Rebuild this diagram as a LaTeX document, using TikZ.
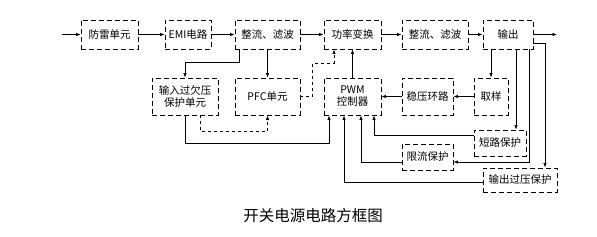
\documentclass[tikz,border=0pt]{standalone}
\usepackage{fontspec}
\newfontfamily\cjk{Noto Sans CJK SC}
\usetikzlibrary{arrows.meta,calc}

\begin{document}
\begin{tikzpicture}[
  x=1pt, y=-1pt,
  font=\cjk\fontsize{10.5}{12}\selectfont,
  line width=0.8pt,
  blk/.style={draw, dash pattern=on 5pt off 3pt, align=center, inner sep=1pt, minimum height=29pt},
  tall/.style={blk, minimum height=37pt},
  >={Latex[length=4.5pt,width=3.5pt]}
]
  \useasboundingbox (0,0) rectangle (597,236);

  % top row
  \node[blk, minimum width=57pt] (fl) at (109.5,34.5) {防雷单元};
  \node[blk, minimum width=46pt] (emi) at (188,34.5) {EMI电路};
  \node[blk, minimum width=65pt] (zl1) at (267.5,34.5) {整流、滤波};
  \node[blk, minimum width=57pt] (gl) at (352.5,34.5) {功率变换};
  \node[blk, minimum width=66pt] (zl2) at (435,34.5) {整流、滤波};
  \node[blk, minimum width=50pt] (sc) at (508,34.5) {输出};
  \coordinate (in) at (62,34.5);
  \coordinate (out) at (557,34.5);

  % middle row
  \node[tall, minimum width=66pt] (qy) at (185,96.5) {输入过欠压\\保护单元};
  \node[tall, minimum width=65pt] (pfc) at (267.5,96.5) {PFC单元};
  \node[tall, minimum width=57pt] (pwm) at (352.5,96.5) {PWM\\控制器};
  \node[tall, minimum width=51pt] (wy) at (427.5,96.5) {稳压环路};
  \node[tall, minimum width=34pt] (cy) at (491,96.5) {取样};

  % protection
  \node[blk, minimum width=52pt, minimum height=26pt] (dl) at (500,143) {短路保护};
  \node[blk, minimum width=51pt, minimum height=26pt] (xl) at (427.5,157) {限流保护};
  \node[blk, minimum width=74pt, minimum height=24pt] (gy) at (520,180) {输出过压保护};

  \node[font=\cjk\fontsize{15.5}{17}\selectfont] (title) at (313,216) {开关电源电路方框图};

  % main chain
  \draw[->] (in) -- (fl);
  \draw[->] (fl) -- (emi);
  \draw[->] (emi) -- (zl1);
  \draw[->] (zl1) -- (gl);
  \draw[->] (gl) -- (zl2);
  \draw[->] (zl2) -- (sc);
  \draw[->] (sc) -- (out);

  % input side
  \draw[->] ([xshift=5pt]zl1.south west) -- ++(0,13) -| (qy.north);
  \draw[->] (zl1.south) -- (pfc.north);
  \draw[->, dashed] (pfc.east) -- ++(12,0) -- ++(0,-33.5) -| ([xshift=-18.5pt]gl.south);
  \draw[->] (pwm.north) -- (gl.south);
  \draw[->] (qy.south) -- ++(0,28) -| ([xshift=-23.5pt]pwm.south);
  \draw[->, dashed] ([xshift=15pt]qy.south) -- ++(0,16) -| (pfc.south);

  % feedback
  \draw[->] (cy.north |- sc.south) -- (cy.north);
  \draw[->] (cy) -- (wy);
  \draw[->] (wy) -- (pwm);
  \draw[->] ([xshift=8pt]sc.south) -- ([xshift=8pt]sc.south |- dl.north);
  \draw[->] ([xshift=21pt]sc.south) |- ($(xl.east)+(0,5)$);
  \draw[->] ($(sc.south east)+(0,-6)$) -| ([xshift=25pt]gy.north);
  \draw[->] ($(dl.west)+(0,-8)$) -| ([xshift=21.5pt]pwm.south);
  \draw[->] ($(xl.west)+(0,5)$) -| ([xshift=8.5pt]pwm.south);
  \draw[->] ($(gy.west)+(0,2)$) -| ([xshift=-8.5pt]pwm.south);
\end{tikzpicture}
\end{document}
